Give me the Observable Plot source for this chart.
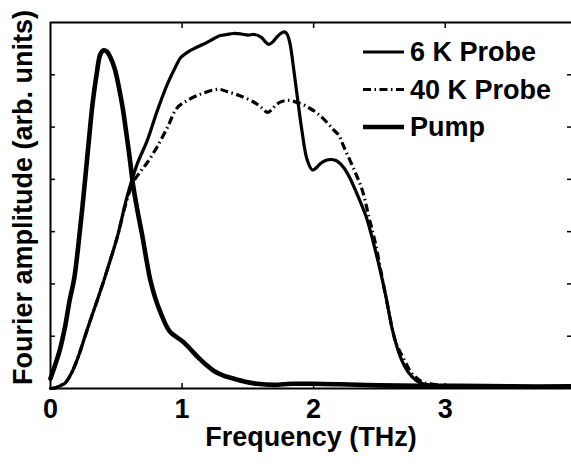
<!DOCTYPE html>
<html><head><meta charset="utf-8">
<script src="https://cdn.jsdelivr.net/npm/d3@7"></script>
<script src="https://cdn.jsdelivr.net/npm/@observablehq/plot@0.6"></script>
<style>html,body{margin:0;padding:0;background:#fff;overflow:hidden}</style>
</head><body><div id="chart"></div>
<script>
// ---- data ----
const seriesNames = ["6 K Probe", "40 K Probe", "Pump"];
const xLabel = "Frequency (THz)";
const yLabel = "Fourier amplitude (arb. units)";
const xTickValues = [0, 1, 2, 3];
const xMinorTicks = [1, 2, 3];
const yTickValues = [1, 2, 3, 4, 5, 6];

const probe6Freq = [0,0.03,0.055,0.08,0.11,0.157,0.21,0.26,0.31,0.36,0.41,0.46,0.51,0.58,0.66,0.735,0.81,0.89,0.95,0.99,1.04,1.09,1.14,1.19,1.24,1.29,1.34,1.39,1.45,1.50,1.55,1.60,1.63,1.66,1.69,1.72,1.75,1.78,1.80,1.82,1.85,1.88,1.91,1.95,1.99,2.02,2.05,2.09,2.13,2.17,2.21,2.26,2.33,2.40,2.45,2.50,2.55,2.60,2.66,2.72,2.80,2.89,3.0,3.3,3.6,3.96];
const probe6Amp  = [0,0.01,0.03,0.06,0.1,0.28,0.6,0.98,1.36,1.72,2.1,2.5,2.92,3.65,4.3,4.74,5.3,5.83,6.15,6.33,6.43,6.5,6.56,6.62,6.69,6.75,6.77,6.79,6.78,6.76,6.77,6.72,6.64,6.58,6.63,6.72,6.79,6.82,6.77,6.6,6.08,5.5,4.95,4.38,4.18,4.22,4.3,4.36,4.38,4.36,4.28,4.10,3.72,3.28,2.83,2.32,1.75,1.11,0.6,0.31,0.12,0.06,0.04,0.03,0.03,0.02];

const probe40Freq = [0,0.03,0.055,0.08,0.11,0.157,0.21,0.26,0.31,0.36,0.41,0.46,0.51,0.58,0.63,0.69,0.735,0.81,0.89,0.96,1.04,1.14,1.24,1.29,1.34,1.44,1.55,1.60,1.65,1.68,1.72,1.80,1.90,1.97,2.03,2.09,2.15,2.19,2.23,2.31,2.37,2.42,2.47,2.52,2.57,2.62,2.69,2.75,2.83,2.91,3.0,3.3,3.6,3.96];
const probe40Amp  = [0,0.01,0.03,0.06,0.1,0.28,0.6,0.98,1.36,1.72,2.1,2.5,2.92,3.6,3.95,4.17,4.32,4.62,5.0,5.36,5.51,5.63,5.71,5.72,5.68,5.6,5.47,5.38,5.28,5.33,5.44,5.51,5.45,5.36,5.26,5.12,4.95,4.85,4.62,4.17,3.79,3.28,2.77,2.13,1.49,0.92,0.54,0.28,0.12,0.08,0.05,0.04,0.03,0.03];

const pumpFreq = [0,0.03,0.07,0.11,0.145,0.18,0.21,0.25,0.29,0.32,0.35,0.38,0.405,0.43,0.456,0.49,0.52,0.55,0.57,0.60,0.63,0.665,0.70,0.73,0.76,0.80,0.84,0.88,0.91,0.96,1.01,1.06,1.12,1.18,1.24,1.31,1.39,1.48,1.57,1.7,1.83,2.0,2.2,2.5,2.8,3.1,3.5,3.96];
const pumpAmp  = [0.19,0.41,0.73,1.17,1.68,2.1,2.7,3.66,4.7,5.45,6.0,6.4,6.47,6.44,6.33,6.1,5.76,5.35,5.0,4.45,3.85,3.35,2.89,2.45,2.06,1.7,1.43,1.2,1.08,0.98,0.89,0.76,0.6,0.46,0.34,0.25,0.19,0.13,0.09,0.07,0.09,0.09,0.08,0.06,0.05,0.05,0.04,0.04];

const toRows = (xs, ys, name) => xs.map((x, i) => ({freq: x, amp: ys[i], series: name}));
const probe6 = toRows(probe6Freq, probe6Amp, seriesNames[0]);
const probe40 = toRows(probe40Freq, probe40Amp, seriesNames[1]);
const pump = toRows(pumpFreq, pumpAmp, seriesNames[2]);

const font = "'Liberation Sans', Arial, Helvetica, sans-serif";
const dashDot = "8,3.5,1.5,3.5";

const plot = Plot.plot({
  width: 571, height: 465,
  marginLeft: 50, marginRight: 0, marginTop: 22, marginBottom: 77,
  style: {fontFamily: font, fontWeight: "bold", fontSize: "27px", color: "#000", background: "#fff", overflow: "visible"},
  x: {domain: [0, 3.96]},
  y: {domain: [0, 7]},
  marks: [
    Plot.axisX(xTickValues, {anchor: "bottom", tickSize: 0, tickPadding: 10, label: null, tickFormat: d => String(d), fontSize: 27, fontWeight: "bold"}),
    Plot.axisX(xMinorTicks, {anchor: "bottom", tickSize: -5, tickFormat: () => "", label: null, strokeWidth: 1.5}),
    Plot.axisX(xMinorTicks, {anchor: "top", tickSize: -5, tickFormat: () => "", label: null, strokeWidth: 1.5}),
    Plot.axisY(yTickValues, {anchor: "left", tickSize: -5, tickFormat: () => "", label: null, strokeWidth: 1.5}),
    Plot.axisY(yTickValues, {anchor: "right", tickSize: -5, tickFormat: () => "", label: null, strokeWidth: 1.5}),
    Plot.line(pump, {x: "freq", y: "amp", stroke: "#000", strokeWidth: 4.6, curve: "catmull-rom"}),
    Plot.line(probe40, {x: "freq", y: "amp", stroke: "#000", strokeWidth: 3.2, strokeDasharray: dashDot, strokeLinecap: "butt", curve: "catmull-rom"}),
    Plot.line(probe6, {x: "freq", y: "amp", stroke: "#000", strokeWidth: 3.2, curve: "catmull-rom"}),
    Plot.ruleX([0], {stroke: "#000", strokeWidth: 2}),
    Plot.ruleY([0, 7], {stroke: "#000", strokeWidth: 2}),
    Plot.text([xLabel], {frameAnchor: "bottom", dy: 57, text: d => d, textAnchor: "middle", fontSize: 27, fontWeight: "bold", fill: "#000"}),
    Plot.text([yLabel], {frameAnchor: "left", rotate: -90, dx: -27, dy: -8, text: d => d, textAnchor: "middle", fontSize: 27, fontWeight: "bold", fill: "#000"})
  ]
});

// ---- legend (drawn on top, positioned in pixels) ----
const legendItems = [
  {name: seriesNames[0], width: 3, dash: null},
  {name: seriesNames[1], width: 3, dash: dashDot},
  {name: seriesNames[2], width: 4.5, dash: null}
];
const lg = d3.select(plot).append("g")
  .attr("font-family", font).attr("font-weight", "bold").attr("font-size", 27).attr("text-anchor", "start");
legendItems.forEach((it, i) => {
  const y = 52 + i * 37.5;
  lg.append("line").attr("x1", 363).attr("x2", 404).attr("y1", y).attr("y2", y)
    .attr("stroke", "#000").attr("stroke-width", it.width).attr("stroke-dasharray", it.dash);
  lg.append("text").attr("x", 410).attr("y", y).attr("dy", "0.35em").attr("fill", "#000").text(it.name);
});

document.getElementById("chart").appendChild(plot);
</script>
</body></html>
